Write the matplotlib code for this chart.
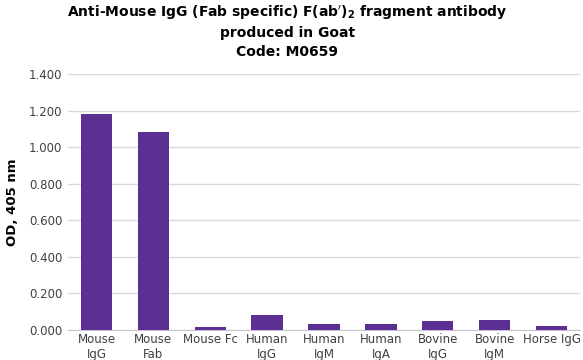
import matplotlib.pyplot as plt

# data
categories = ['Mouse\nIgG', 'Mouse\nFab', 'Mouse Fc', 'Human\nIgG', 'Human\nIgM',
              'Human\nIgA', 'Bovine\nIgG', 'Bovine\nIgM', 'Horse IgG']
od_values = [1.181, 1.083, 0.016, 0.084, 0.031, 0.031, 0.051, 0.056, 0.022]
y_ticks = [0.0, 0.2, 0.4, 0.6, 0.8, 1.0, 1.2, 1.4]

bar_color = '#5C3092'

fig = plt.figure(figsize=(5.83, 3.6), dpi=100)
ax = fig.add_axes([68 / 583, 30 / 360, 512 / 583, 256 / 360])

x = range(len(categories))
ax.bar(x, od_values, width=0.55, color=bar_color, zorder=3)

ax.set_xlim(-0.5, len(categories) - 0.5)
ax.set_ylim(0, 1.4)
ax.set_yticks(y_ticks)
ax.set_yticklabels([f'{v:.3f}' for v in y_ticks])
ax.set_xticks(list(x))
ax.set_xticklabels(categories, linespacing=1.25)

ax.grid(axis='y', color='#d9d9d9', linewidth=1, zorder=0)
for s in ['top', 'right', 'left']:
    ax.spines[s].set_visible(False)
ax.spines['bottom'].set_color('#c8c4d4')
ax.tick_params(axis='y', length=0, labelsize=8.5, labelcolor='#404040', pad=4)
ax.tick_params(axis='x', length=0, labelsize=8.5, labelcolor='#404040', pad=2)

ax.set_ylabel('OD, 405 nm', fontsize=9.5, fontweight='bold', labelpad=7)

title_kw = dict(ha='center', va='center', fontsize=10, fontweight='bold')
fig.text(0.493, 0.963, r"Anti-Mouse IgG (Fab specific) F(ab$'$)$_\mathbf{2}$ fragment antibody",
         **title_kw)
fig.text(0.493, 0.909, 'produced in Goat', **title_kw)
fig.text(0.493, 0.855, 'Code: M0659', **title_kw)

fig.savefig('out.png', dpi=100)
